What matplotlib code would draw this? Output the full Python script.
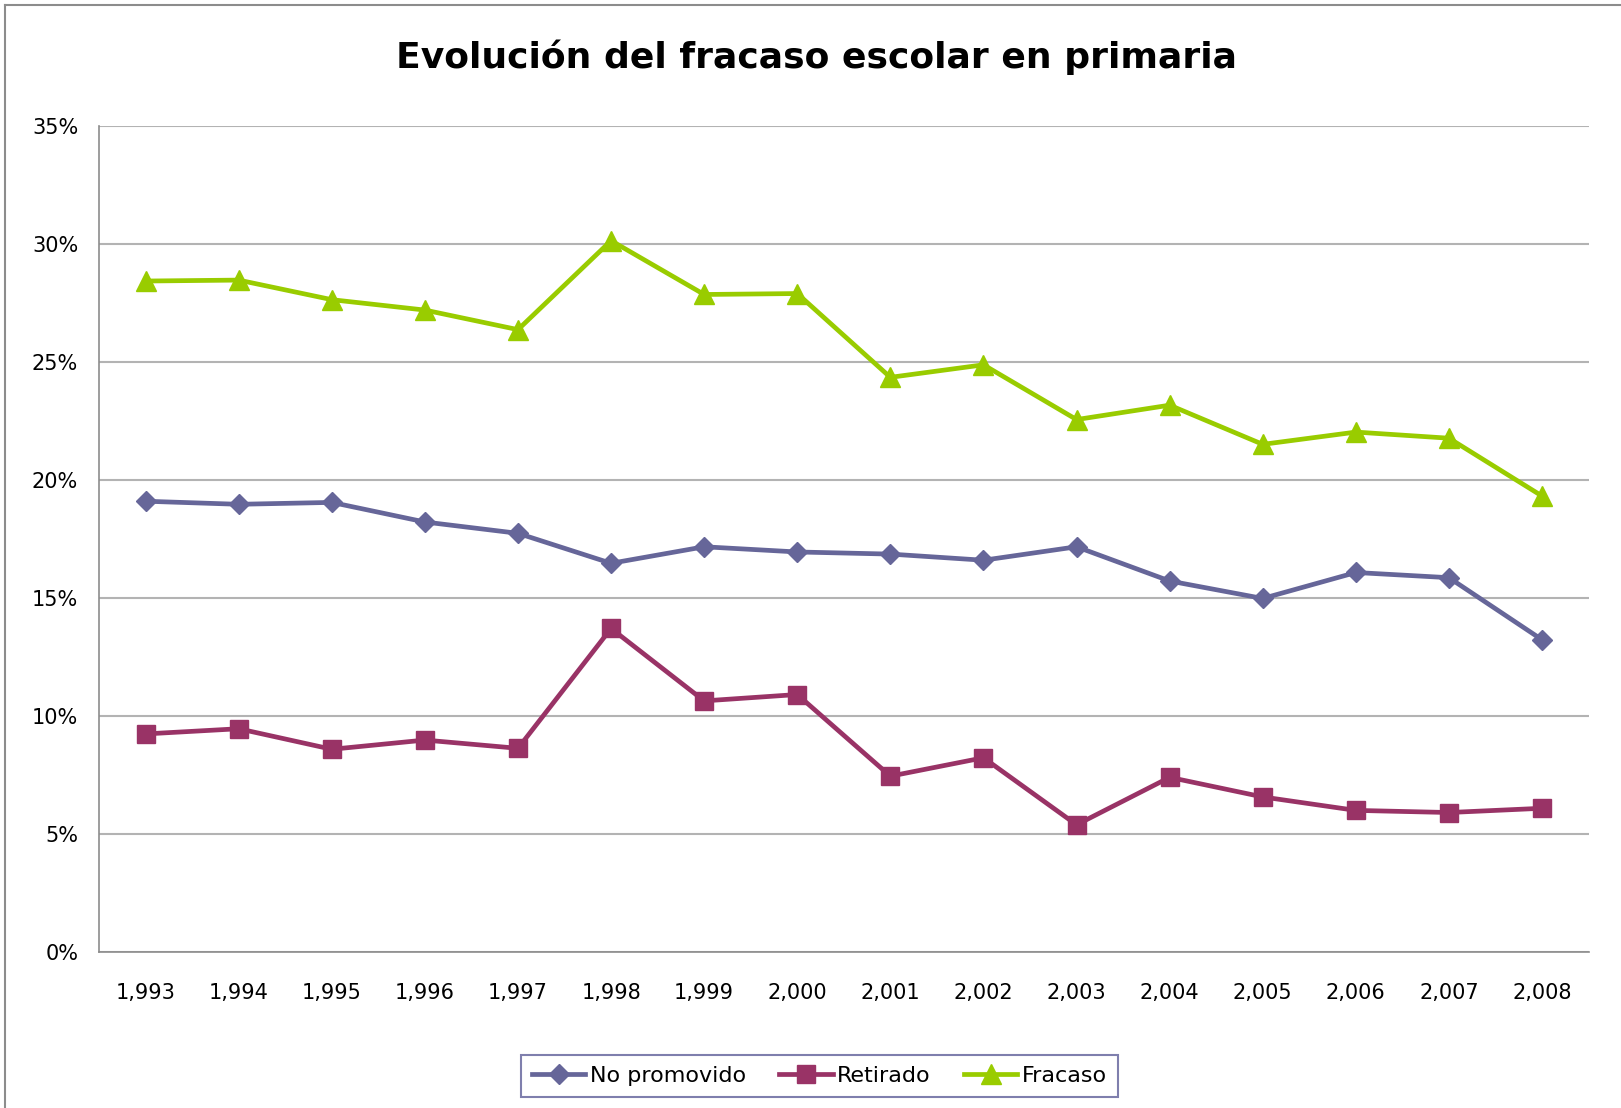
import numpy as np
import matplotlib
matplotlib.use("Agg")
import matplotlib.pyplot as plt
from matplotlib.lines import Line2D
from matplotlib.ticker import FuncFormatter

# Data (percent)
years = ["1,993", "1,994", "1,995", "1,996", "1,997", "1,998", "1,999", "2,000",
         "2,001", "2,002", "2,003", "2,004", "2,005", "2,006", "2,007", "2,008"]
no_promovido = [19.10, 18.97, 19.05, 18.22, 17.74, 16.47, 17.17, 16.95,
                16.86, 16.60, 17.17, 15.72, 14.98, 16.08, 15.86, 13.23]
retirado = [9.24, 9.46, 8.59, 8.98, 8.63, 13.71, 10.64, 10.91,
            7.45, 8.23, 5.39, 7.40, 6.57, 6.00, 5.91, 6.09]
fracaso = [28.43, 28.47, 27.64, 27.20, 26.37, 30.14, 27.86, 27.90,
           24.35, 24.88, 22.56, 23.17, 21.51, 22.03, 21.77, 19.32]
y_ticks = [0, 5, 10, 15, 20, 25, 30, 35]

plt.rcParams['font.family'] = ['DejaVu Sans']

fig = plt.figure(figsize=(16.21, 11.08), dpi=100)
ax = fig.add_axes([0.0611, 0.1408, 0.9189, 0.7455])

x = np.arange(len(years))
ax.plot(x, no_promovido, color='#666699', lw=3.4, marker='D', ms=10,
        mec='#666699', label='No promovido', zorder=3)
ax.plot(x, retirado, color='#993366', lw=3.4, marker='s', ms=13,
        mec='#993366', label='Retirado', zorder=3)
ax.plot(x, fracaso, color='#99cc00', lw=3.4, marker='^', ms=14,
        mec='#99cc00', label='Fracaso', zorder=3)

ax.set_xlim(-0.5, len(years) - 0.5)
ax.set_ylim(0, 35)
ax.set_yticks(y_ticks)
ax.yaxis.set_major_formatter(FuncFormatter(lambda v, p: '%d%%' % v))
ax.set_xticks(x)
ax.set_xticklabels(years)
ax.tick_params(axis='both', length=0, labelsize=15, colors='black')
ax.tick_params(axis='y', pad=15)
ax.tick_params(axis='x', pad=22)
ax.grid(axis='y', color='#b3b3b3', lw=1.5)
ax.set_axisbelow(True)
for s in ['top', 'right']:
    ax.spines[s].set_visible(False)
for s in ['left', 'bottom']:
    ax.spines[s].set_color('#8c8c8c')
    ax.spines[s].set_linewidth(1.2)

fig.text(0.504, 0.948, 'Evolución del fracaso escolar en primaria',
         ha='center', va='center', fontsize=26, fontweight='bold')

leg = fig.legend(loc='center', bbox_to_anchor=(0.5055, 0.029), ncol=3,
                 fontsize=16, frameon=True, fancybox=False, handlelength=2.4,
                 handletextpad=0.2, columnspacing=1.5, borderpad=0.5)
leg.get_frame().set_edgecolor('#5f5f99')
leg.get_frame().set_linewidth(1.5)

# outer chart frame (cut off at right and bottom in the original)
fig.add_artist(Line2D([5 / 1621, 1], [1 - 5 / 1108, 1 - 5 / 1108],
                      transform=fig.transFigure, color='#8c8c8c', lw=1.5))
fig.add_artist(Line2D([5 / 1621, 5 / 1621], [0, 1 - 5 / 1108],
                      transform=fig.transFigure, color='#8c8c8c', lw=1.5))

fig.savefig('out.png', dpi=100, facecolor='white')
